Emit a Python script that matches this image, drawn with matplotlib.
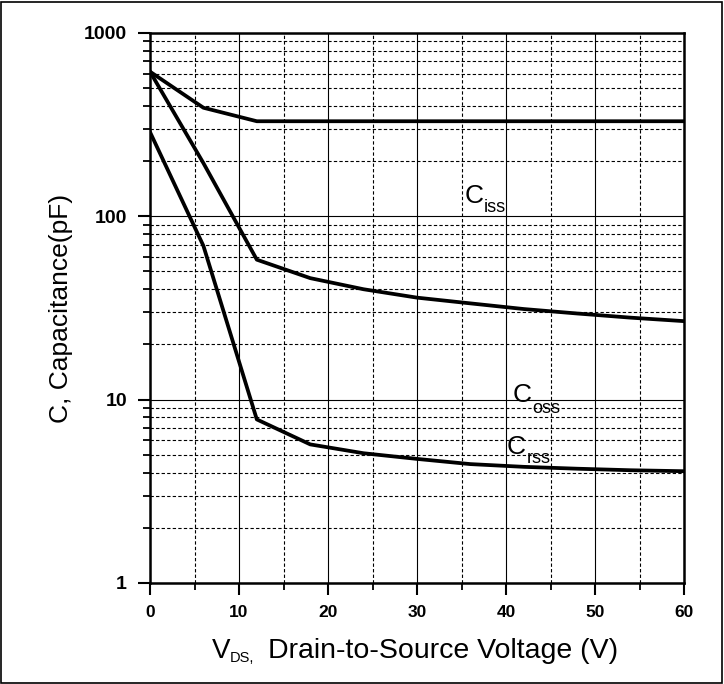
import matplotlib
matplotlib.use("Agg")
import matplotlib.pyplot as plt
from matplotlib.patches import Rectangle
from matplotlib.ticker import FixedLocator, NullFormatter

plt.rcParams['font.family'] = ['Liberation Sans', 'DejaVu Sans']

# capacitance curves
vds_iss = [0, 6, 12, 60]
ciss = [615, 391, 330, 330]

vds_oss = [0, 6, 12, 18, 24, 30, 36, 42, 48, 54, 60]
coss = [615, 195, 58, 46, 40, 36, 33.5, 31.2, 29.5, 28, 26.8]

vds_rss = [0, 6, 12, 18, 24, 30, 36, 42, 48, 54, 60]
crss = [288, 69, 7.8, 5.7, 5.1, 4.75, 4.45, 4.3, 4.2, 4.12, 4.07]

xticks = [0, 10, 20, 30, 40, 50, 60]
yticks = [1, 10, 100, 1000]
ytick_labels = ['1', '10', '100', '1000']

# curve names: (main letter position, subscript text, subscript position)
curve_labels = [
    ((35.3, 118.7), 'iss', (37.5, 105.5)),
    ((40.7, 9.67), 'oss', (42.9, 8.42)),
    ((40.1, 5.03), 'rss', (42.3, 4.49)),
]

fig = plt.figure(figsize=(7.24, 6.84), dpi=100)
ax = fig.add_axes([0.2072, 0.1477, 0.7376, 0.8041])

ax.plot(vds_iss, ciss, color='black', lw=2.7)
ax.plot(vds_oss, coss, color='black', lw=2.7)
ax.plot(vds_rss, crss, color='black', lw=2.7)

ax.set_yscale('log')
ax.set_xlim(0, 60)
ax.set_ylim(1, 1000)

ax.xaxis.set_major_locator(FixedLocator(xticks))
ax.xaxis.set_minor_locator(FixedLocator([5, 15, 25, 35, 45, 55]))
ax.yaxis.set_major_locator(FixedLocator(yticks))
ax.set_yticklabels(ytick_labels)
ax.yaxis.set_minor_locator(FixedLocator([m * d for d in (1, 10, 100) for m in range(2, 10)]))
ax.yaxis.set_minor_formatter(NullFormatter())

ax.grid(which='major', color='black', lw=0.8, ls='-')
ax.grid(which='minor', color='black', lw=0.8, ls=(0, (3, 2)))

ax.tick_params(which='major', direction='out', length=8.5, width=1.5)
ax.tick_params(which='minor', direction='out', length=5, width=1.3)
ax.tick_params(axis='x', which='major', labelsize=12.5, pad=7)
ax.tick_params(axis='y', which='major', labelsize=14, pad=8)
for lab in ax.get_xticklabels() + ax.get_yticklabels():
    lab.set_fontweight('bold')
for s in ax.spines.values():
    s.set_linewidth(1.8)

ax.set_ylabel('C, Capacitance(pF)', fontsize=19, labelpad=8)

# x label built from pieces so the subscript sits low like the original
fig.text(0.2924, 0.0376, 'V', fontsize=20, va='baseline', ha='left')
fig.text(0.3167, 0.0317, 'DS,', fontsize=10.5, va='baseline', ha='left')
fig.text(0.3700, 0.0376, 'Drain-to-Source Voltage (V)', fontsize=20.5, va='baseline', ha='left')

for (cx, cy), sub, (sx, sy) in curve_labels:
    ax.text(cx, cy, 'C', fontsize=19, va='baseline', ha='left')
    ax.text(sx, sy, sub, fontsize=13, va='baseline', ha='left')

fig.patches.append(Rectangle((0.002, 0.002), 0.995, 0.995, transform=fig.transFigure,
                             fill=False, edgecolor='black', lw=1.2))

fig.savefig('out.png', dpi=100)
